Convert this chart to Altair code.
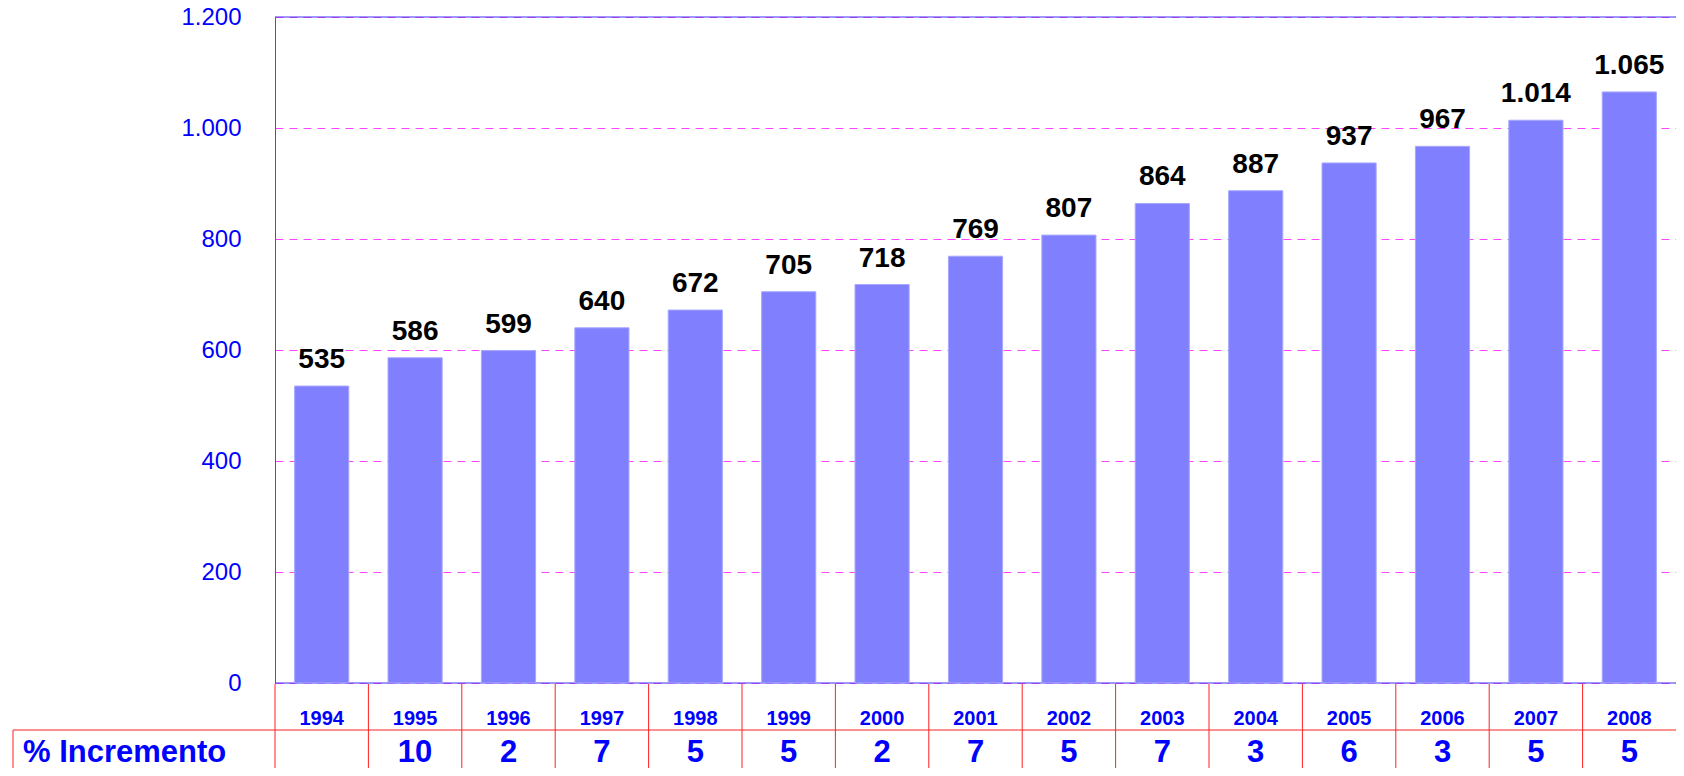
import altair as alt
import pandas as pd

years = ["1994", "1995", "1996", "1997", "1998", "1999", "2000", "2001",
         "2002", "2003", "2004", "2005", "2006", "2007", "2008"]
values = [535, 586, 599, 640, 672, 705, 718, 769, 807, 864, 887, 937, 967, 1014, 1065]
increments = ["", "10", "2", "7", "5", "5", "2", "7", "5", "7", "3", "6", "3", "5", "5"]
y_ticks = [0, 200, 400, 600, 800, 1000, 1200]
row_label = "% Incremento"

W = 1401
H = 666
FONT = "Liberation Sans"
BLUE = "#0000FF"
RED = "#FF2020"

df = pd.DataFrame({"year": years, "value": values, "inc": increments})
frame_df = pd.DataFrame({"value": [0, 1200]})
one_df = pd.DataFrame({"label": [row_label]})

dot_fmt = "replace(format(datum.value, ','), ',', '.')"

xscale = alt.Scale(paddingInner=0, paddingOuter=0)
x = alt.X("year:N", sort=years, axis=None, scale=xscale)
y_axis = alt.Axis(
    values=y_ticks,
    labelExpr=dot_fmt,
    labelFont=FONT,
    labelFontSize=24,
    labelColor=BLUE,
    labelPadding=34,
    ticks=False,
    domainColor="#4848FF",
    domainWidth=1,
    grid=True,
    gridColor="#FF44FF",
    gridDash=[8, 6],
    gridWidth=1,
    title=None,
)
y_scale = alt.Scale(domain=[0, 1200], nice=False)
y_main = alt.Y("value:Q", scale=y_scale, axis=y_axis)

base = alt.Chart(df)

frame = alt.Chart(frame_df).mark_rule(color="#4030F0", strokeWidth=1).encode(y=y_main)

bars = base.mark_bar(
    color="#8080FF", stroke="#A8A8FF", strokeWidth=1, width={"band": 0.58}
).encode(x=x, y=y_main)

labels = base.transform_calculate(lab=dot_fmt).mark_text(
    font=FONT, fontSize=28, fontWeight="bold", color="black",
    baseline="alphabetic", dy=-18
).encode(x=x, y=y_main, text="lab:N")

year_text = base.mark_text(
    font=FONT, fontSize=20, fontWeight="bold", color=BLUE, baseline="alphabetic"
).encode(x=x, y=alt.value(H + 42), text="year:N")

inc_text = base.mark_text(
    font=FONT, fontSize=31, fontWeight="bold", color=BLUE, baseline="alphabetic"
).encode(x=x, y=alt.value(H + 79), text="inc:N")

vlines = base.mark_rule(color=RED, strokeWidth=1).encode(
    x=alt.X("year:N", sort=years, axis=None, scale=xscale, bandPosition=0),
    y=alt.value(H + 1),
    y2=alt.value(H + 100),
)

hline = alt.Chart(one_df).mark_rule(color=RED, strokeWidth=1).encode(
    x=alt.value(-262), x2=alt.value(W), y=alt.value(H + 47)
)
left_border = alt.Chart(one_df).mark_rule(color=RED, strokeWidth=1).encode(
    x=alt.value(-262), y=alt.value(H + 47), y2=alt.value(H + 100)
)

row_text = alt.Chart(one_df).mark_text(
    font=FONT, fontSize=31, fontWeight="bold", color=BLUE,
    align="left", baseline="alphabetic"
).encode(x=alt.value(-252), y=alt.value(H + 79), text="label:N")

chart = alt.layer(
    frame, bars, labels, vlines, hline, left_border, year_text, inc_text, row_text
).properties(
    width=W,
    height=H,
    padding={"left": 267, "top": 9, "right": 0, "bottom": 85},
    autosize=alt.AutoSizeParams(type="none"),
).configure_view(stroke=None)

chart.save("out.html", embed_options={"renderer": "svg", "actions": False})
